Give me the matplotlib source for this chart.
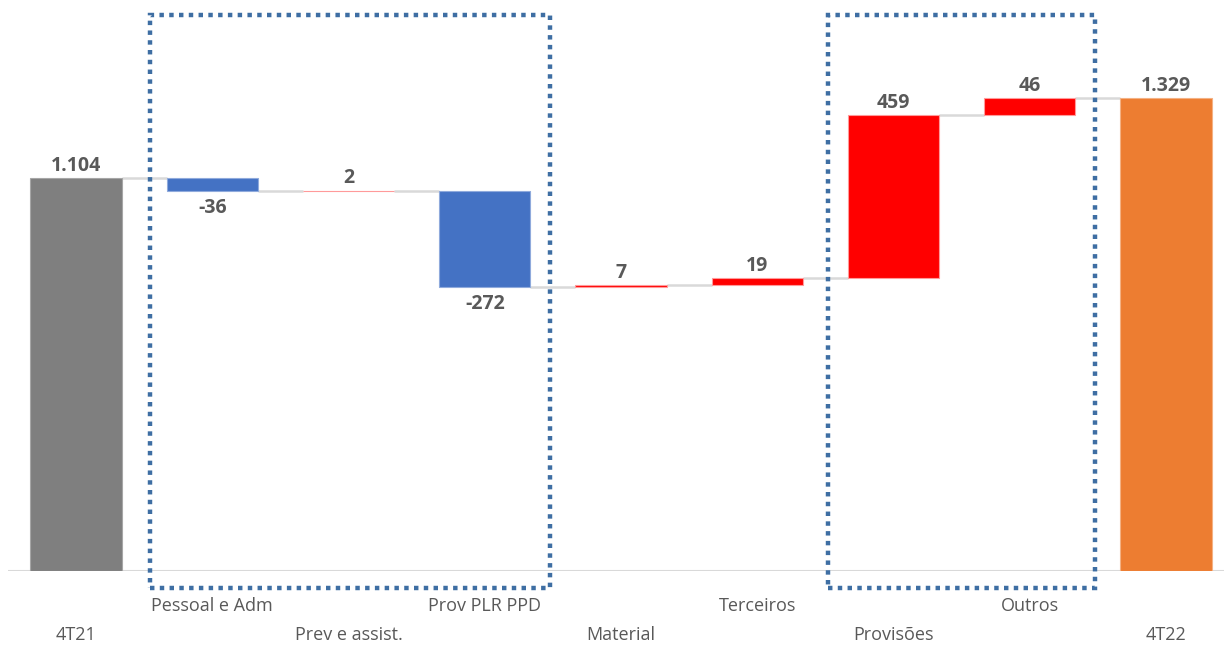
import matplotlib
matplotlib.use("Agg")
import matplotlib.pyplot as plt
from matplotlib.patches import Rectangle

categories = ["4T21", "Pessoal e Adm", "Prev e assist.", "Prov PLR PPD", "Material",
              "Terceiros", "Provisões", "Outros", "4T22"]
deltas = [None, -36, 2, -272, 7, 19, 459, 46, None]
start_value = 1104
end_value = 1329
value_labels = ["1.104", "-36", "2", "-272", "7", "19", "459", "46", "1.329"]

plt.rcParams['font.family'] = ['Open Sans', 'DejaVu Sans']

fig = plt.figure(figsize=(12.24, 6.45), dpi=100)
W, H = 1224, 645
ax = fig.add_axes([8 / W, 74 / H, 1216 / W, 561 / H])
ax.set_xlim(-0.5, 8.4255)
ax.set_ylim(0, 1577.6)
ax.axis('off')

bw = 0.67
txt_col = '#595959'
bottoms, heights, colors, edges = [], [], [], []
running = start_value
for i, d in enumerate(deltas):
    if i == 0:
        bottoms.append(0); heights.append(start_value); colors.append('#7f7f7f'); edges.append('#a6a6a6')
    elif i == len(deltas) - 1:
        bottoms.append(0); heights.append(end_value); colors.append('#ed7d31'); edges.append('#f4b183')
    else:
        new = running + d
        bottoms.append(min(running, new)); heights.append(abs(d))
        colors.append('#4472c4' if d < 0 else '#ff0000')
        edges.append('#8faadc' if d < 0 else '#ff9a9a')
        running = new

x = list(range(len(categories)))
ax.bar(x, heights, bottom=bottoms, width=bw, color=colors, edgecolor=edges, linewidth=0.8, zorder=3)

# connectors
levels = []
running = start_value
levels.append(running)
for d in deltas[1:-1]:
    running += d
    levels.append(running)
for i in range(len(categories) - 1):
    ax.plot([i + bw / 2, i + 1 - bw / 2], [levels[i], levels[i]], color='#d9d9d9', lw=1.8, zorder=2,
            solid_capstyle='butt')

# baseline
ax.axhline(0, color='#d9d9d9', lw=1.5, zorder=1)

# value labels
for i in range(len(categories)):
    d = deltas[i]
    if d is not None and d < 0:
        ax.annotate(value_labels[i], (i, bottoms[i]), xytext=(0, -5), textcoords='offset points',
                    ha='center', va='top', fontsize=14, fontweight='bold', color=txt_col, zorder=5)
    else:
        ax.annotate(value_labels[i], (i, bottoms[i] + heights[i]), xytext=(0, 1.5), textcoords='offset points',
                    ha='center', va='bottom', fontsize=14, fontweight='bold', color=txt_col, zorder=5)

# category labels (staggered)
for i, c in enumerate(categories):
    off = -25.2 if i % 2 == 1 else -46.1
    ax.annotate(c, (i, 0), xytext=(0, off), textcoords='offset points', ha='center', va='center',
                fontsize=13, color=txt_col, annotation_clip=False)

# dotted highlight boxes
box_col = '#3e6ea3'
for x0, x1 in [(0.543, 3.479), (5.519, 7.479)]:
    r = Rectangle((x0, -47.8), x1 - x0, 1563 + 47.8, fill=False, edgecolor=box_col, lw=3.2,
                  linestyle=(0, (1, 1.2)), clip_on=False, zorder=6)
    ax.add_patch(r)

fig.savefig("out.png", dpi=100)
